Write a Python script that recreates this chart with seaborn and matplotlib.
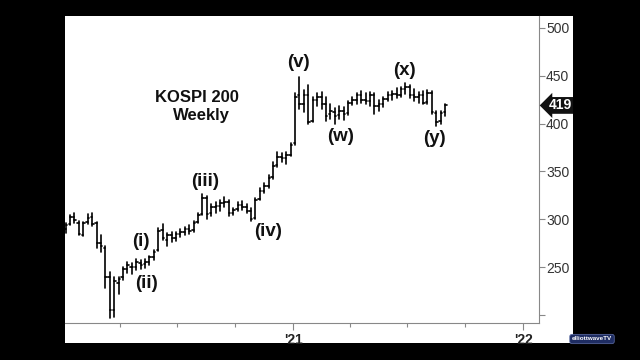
import numpy as np
import pandas as pd
import matplotlib
matplotlib.use("Agg")
import matplotlib.pyplot as plt
import matplotlib.dates as mdates
from matplotlib.patches import Rectangle
from matplotlib.ticker import FuncFormatter, FixedLocator
import seaborn as sns

# ---------------- data (weekly KOSPI 200) ----------------
first_week = "2020-01-06"
opens = [290, 295, 302, 296, 284, 297, 302, 296, 275, 270, 240, 205, 233, 240, 248, 250,
         250, 254, 253, 255, 260, 268, 289, 278, 283, 280, 285, 287, 290, 289, 297, 305,
         322, 306, 313, 314, 317, 318, 306, 311, 315, 313, 309, 301, 321, 330, 335, 344,
         357, 365, 364, 367, 380, 430, 420, 430, 403, 425, 428, 420, 410, 412, 409, 413,
         411, 422, 425, 430, 425, 424, 430, 418, 420, 426, 430, 431, 430, 436, 438, 430,
         428, 430, 423, 432, 411, 403, 412]
highs = [296, 304, 307, 298, 297, 305, 306, 297, 283, 272, 245, 240, 240, 250, 255, 254,
         258, 257, 258, 262, 268, 291, 295, 286, 287, 287, 290, 292, 294, 298, 306, 326,
         324, 316, 318, 320, 323, 320, 312, 318, 319, 316, 312, 322, 333, 338, 346, 360,
         370, 369, 370, 380, 432, 449, 435, 440, 428, 432, 433, 428, 420, 416, 418, 417,
         424, 428, 432, 434, 432, 433, 432, 425, 428, 433, 434, 437, 438, 442, 440, 436,
         433, 434, 435, 434, 413, 413, 420]
lows = [286, 294, 296, 283, 282, 295, 293, 270, 266, 228, 197, 198, 222, 236, 244, 243,
        247, 248, 249, 252, 257, 267, 278, 272, 276, 277, 281, 283, 285, 287, 296, 304,
        300, 303, 306, 309, 313, 303, 304, 309, 310, 306, 298, 300, 320, 327, 333, 342,
        355, 360, 358, 366, 378, 415, 412, 400, 402, 418, 415, 403, 405, 400, 405, 404,
        409, 419, 421, 422, 420, 418, 410, 413, 417, 424, 425, 427, 428, 431, 427, 424,
        422, 420, 421, 410, 398, 400, 408]
closes = [294, 302, 299, 285, 296, 301, 295, 275, 272, 240, 205, 235, 238, 248, 252, 250,
          255, 252, 255, 260, 266, 288, 280, 283, 280, 285, 287, 290, 288, 296, 304, 322,
          305, 313, 314, 317, 318, 306, 310, 315, 313, 309, 300, 320, 330, 335, 343, 356,
          365, 364, 367, 378, 428, 420, 430, 402, 425, 428, 420, 408, 413, 408, 413, 410,
          422, 425, 430, 425, 424, 430, 418, 420, 426, 430, 431, 430, 436, 438, 430, 428,
          430, 422, 432, 412, 402, 411, 419]
last_value = 419

y_ticks = [200, 250, 300, 350, 400, 450, 500]
y_tick_labels = ["", "250", "300", "350", "400", "450", "500"]

year_ticks = ["2021-01-01", "2022-01-01"]
year_labels = ["'21", "'22"]
quarter_ticks = ["2020-04-01", "2020-07-01", "2020-10-01",
                 "2021-04-01", "2021-07-01", "2021-10-01"]

wave_labels = ["(i)", "(ii)", "(iii)", "(iv)", "(v)", "(w)", "(x)", "(y)"]
wave_dates = ["2020-05-05", "2020-05-13", "2020-08-14", "2020-11-22",
              "2021-01-09", "2021-03-17", "2021-06-27", "2021-08-13"]
wave_values = [277, 233, 339, 287, 464, 386, 456, 384]

title_lines = ["KOSPI 200", "Weekly"]

# ---------------- build segments ----------------
dates = pd.date_range(first_week, periods=len(closes), freq="W-MON")
half = pd.Timedelta(days=2.4)
rows = []
u = 0
for d, o, h, l, c in zip(dates, opens, highs, lows, closes):
    rows += [(u, d, l), (u, d, h)]
    u += 1
    rows += [(u, d - half, o), (u, d, o)]
    u += 1
    rows += [(u, d, c), (u, d + half, c)]
    u += 1
seg = pd.DataFrame(rows, columns=["u", "x", "y"])

# ---------------- figure ----------------
sns.set_style("white")
plt.rcParams["font.family"] = ["Liberation Sans", "DejaVu Sans"]

fig = plt.figure(figsize=(6.4, 3.6), dpi=100, facecolor="black")
fig.patches.append(Rectangle((65 / 640, 17 / 360), 508 / 640, 327 / 360,
                             transform=fig.transFigure, fc="white", ec="none", zorder=-10))
ax = fig.add_axes([65 / 640, 37 / 360, 474 / 640, 307 / 360])
ax.set_zorder(5)
ax.set_facecolor("white")

sns.lineplot(data=seg, x="x", y="y", units="u", estimator=None, sort=False,
             color="black", lw=1.2, ax=ax, legend=False)

ax.set_xlim(pd.Timestamp("2020-01-05"), pd.Timestamp("2022-01-26"))
ax.set_ylim(191.5, 512.5)
ax.set_xlabel("")
ax.set_ylabel("")

ax.yaxis.tick_right()
ax.set_yticks(y_ticks)
ax.set_yticklabels(y_tick_labels)
ax.tick_params(axis="y", which="major", right=True, left=False, direction="out", length=4,
               width=0.8, color="#888888", labelcolor="#333333", labelsize=10, pad=1)

ax.xaxis.set_major_locator(FixedLocator(mdates.date2num(pd.to_datetime(year_ticks))))
ax.xaxis.set_major_formatter(FuncFormatter(lambda v, p: year_labels[p] if p is not None and p < len(year_labels) else ""))
ax.xaxis.set_minor_locator(FixedLocator(mdates.date2num(pd.to_datetime(quarter_ticks))))
ax.tick_params(axis="x", which="major", bottom=True, top=False, direction="out", length=5,
               width=0.8, color="#888888", labelsize=10, labelcolor="#222222", pad=2)
ax.tick_params(axis="x", which="minor", bottom=True, top=False, direction="out", length=3,
               width=0.8, color="#888888")
ax.set_xticks(mdates.date2num(pd.to_datetime(year_ticks)))
ax.set_xticklabels(year_labels, fontweight="bold")

for s in ["left", "top"]:
    ax.spines[s].set_visible(False)
for s in ["right", "bottom"]:
    ax.spines[s].set_color("#888888")
    ax.spines[s].set_linewidth(0.8)
ax.grid(False)

# title
ax.text(pd.Timestamp("2020-08-01"), 427, title_lines[0], ha="center", va="center",
        fontsize=12, fontweight="bold", color="#111111")
ax.text(pd.Timestamp("2020-08-09"), 408, title_lines[1], ha="center", va="center",
        fontsize=12, fontweight="bold", color="#111111")

# wave labels
for t, d, v in zip(wave_labels, wave_dates, wave_values):
    ax.text(pd.Timestamp(d), v, t, ha="center", va="center", fontsize=13.5,
            fontweight="bold", color="#111111")

# last value marker
ax.text(1.02, last_value, str(last_value), transform=ax.get_yaxis_transform(),
        ha="left", va="center", color="white", fontsize=10, fontweight="bold",
        bbox=dict(boxstyle="larrow,pad=0.1", fc="#111111", ec="none"), clip_on=False)

# logo
fig.text(592 / 640, 1 - 339 / 360, "elliottwaveTV", ha="center", va="center",
         fontsize=4.5, fontweight="bold", color="white",
         bbox=dict(boxstyle="round,pad=0.35", fc="#1f2d63", ec="#6070a8", lw=0.5))

fig.savefig("out.png", dpi=100, facecolor="black")
